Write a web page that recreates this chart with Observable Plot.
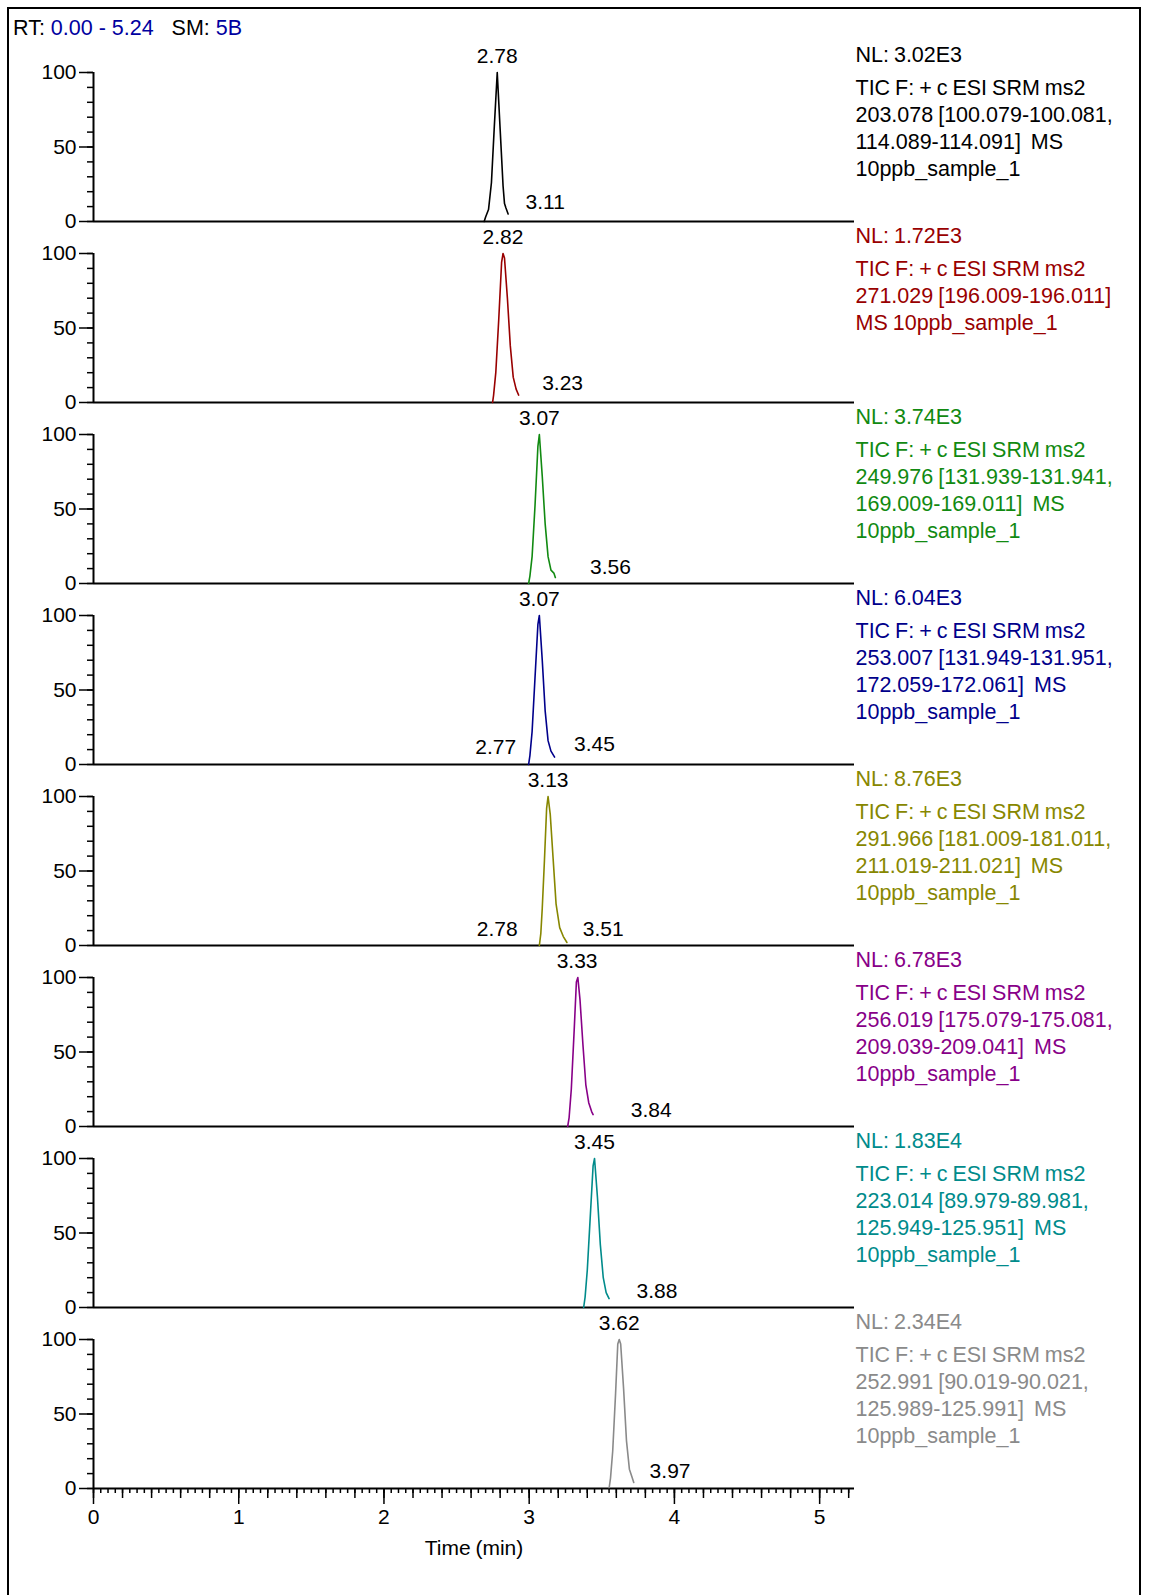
<!DOCTYPE html>
<html>
<head>
<meta charset="utf-8">
<script src="https://cdn.jsdelivr.net/npm/d3@7"></script>
<script src="https://cdn.jsdelivr.net/npm/@observablehq/plot@0.6"></script>
<style>
  body { margin: 0; background: #fff; }
  #wrap { position: relative; width: 1150px; height: 1595px; overflow: hidden; font-family: "Liberation Sans", Arial, sans-serif; }
  #frame { position: absolute; left: 7px; top: 7px; width: 1134px; height: 1620px; border: 2px solid #000; border-bottom: none; box-sizing: border-box; pointer-events: none; z-index: 5; }
  #title { position: absolute; left: 13px; top: 15px; font-size: 21.5px; line-height: 26px; white-space: pre; color: #000; }
  #title .v { color: #0000a0; }
  .panel { position: absolute; left: 0; }
</style>
</head>
<body>
<div id="wrap">
  <div id="title"></div>
  <div id="frame"></div>
</div>
<script>
// ---- Data ----
const rtRange = "0.00 - 5.24";
const smooth = "5B";
const xDomain = [0, 5.24];
const xMajorTicks = [0, 1, 2, 3, 4, 5];
const yTicks = [0, 50, 100];

const colors = ["#000000", "#990000", "#118a11", "#00008b", "#878700", "#880088", "#008b8b", "#8a8a8a"];
const nlLabels = ["NL: 3.02E3", "NL: 1.72E3", "NL: 3.74E3", "NL: 6.04E3", "NL: 8.76E3", "NL: 6.78E3", "NL: 1.83E4", "NL: 2.34E4"];
const desc1 = ["TIC F: + c ESI SRM ms2", "203.078 [100.079-100.081,", "114.089-114.091]  MS", "10ppb_sample_1"];
const desc2 = ["TIC F: + c ESI SRM ms2", "271.029 [196.009-196.011]", "MS 10ppb_sample_1"];
const desc3 = ["TIC F: + c ESI SRM ms2", "249.976 [131.939-131.941,", "169.009-169.011]  MS", "10ppb_sample_1"];
const desc4 = ["TIC F: + c ESI SRM ms2", "253.007 [131.949-131.951,", "172.059-172.061]  MS", "10ppb_sample_1"];
const desc5 = ["TIC F: + c ESI SRM ms2", "291.966 [181.009-181.011,", "211.019-211.021]  MS", "10ppb_sample_1"];
const desc6 = ["TIC F: + c ESI SRM ms2", "256.019 [175.079-175.081,", "209.039-209.041]  MS", "10ppb_sample_1"];
const desc7 = ["TIC F: + c ESI SRM ms2", "223.014 [89.979-89.981,", "125.949-125.951]  MS", "10ppb_sample_1"];
const desc8 = ["TIC F: + c ESI SRM ms2", "252.991 [90.019-90.021,", "125.989-125.991]  MS", "10ppb_sample_1"];

// traces: retention time (min) and relative abundance (%)
const t1 = [2.69, 2.70, 2.72, 2.74, 2.76, 2.78, 2.80, 2.82, 2.83, 2.84, 2.855];
const a1 = [0, 3, 8, 26, 64, 100, 62, 24, 12, 9, 5];
const t2 = [2.748, 2.755, 2.77, 2.79, 2.81, 2.82, 2.83, 2.85, 2.87, 2.89, 2.91, 2.927];
const a2 = [0, 5, 20, 55, 94, 100, 97, 70, 38, 17, 9, 5];
const t3 = [2.996, 3.005, 3.02, 3.04, 3.06, 3.07, 3.09, 3.11, 3.13, 3.15, 3.17, 3.18];
const a3 = [0, 5, 18, 52, 92, 100, 72, 40, 18, 9, 7, 4];
const t4 = [2.996, 3.005, 3.02, 3.04, 3.06, 3.07, 3.09, 3.11, 3.13, 3.15, 3.175];
const a4 = [0, 6, 22, 58, 94, 100, 70, 36, 16, 9, 5];
const t5 = [3.07, 3.08, 3.09, 3.105, 3.12, 3.13, 3.145, 3.165, 3.185, 3.21, 3.235, 3.26];
const a5 = [0, 8, 25, 57, 92, 100, 88, 58, 28, 12, 6, 2];
const t6 = [3.265, 3.275, 3.29, 3.31, 3.325, 3.335, 3.35, 3.37, 3.39, 3.41, 3.43, 3.44];
const a6 = [0, 6, 25, 65, 97, 100, 85, 55, 28, 16, 10, 8];
const t7 = [3.375, 3.385, 3.40, 3.42, 3.44, 3.45, 3.47, 3.49, 3.51, 3.53, 3.55];
const a7 = [0, 7, 25, 60, 95, 100, 74, 42, 20, 10, 6];
const t8 = [3.55, 3.56, 3.575, 3.595, 3.61, 3.62, 3.63, 3.65, 3.67, 3.69, 3.71, 3.72];
const a8 = [0, 7, 25, 64, 97, 100, 97, 67, 32, 13, 7, 4];

// peak labels: time and the abundance they sit on
const labelTimes = [[2.78, 3.11], [2.82, 3.23], [3.07, 3.56], [3.07, 2.77, 3.45], [3.13, 2.78, 3.51], [3.33, 3.84], [3.45, 3.88], [3.62, 3.97]];
const labelAbund = [[100, 2], [100, 2], [100, 0], [100, 1, 3], [100, 0, 0], [100, 0], [100, 0], [100, 1]];

// ---- Build ----
const traceT = [t1, t2, t3, t4, t5, t6, t7, t8];
const traceA = [a1, a2, a3, a4, a5, a6, a7, a8];
const descs = [desc1, desc2, desc3, desc4, desc5, desc6, desc7, desc8];

const title = document.getElementById("title");
title.innerHTML = `RT: <span class="v">${rtRange}</span>   SM: <span class="v">${smooth}</span>`;

const wrap = document.getElementById("wrap");
const FONT = "Liberation Sans, Arial, sans-serif";
const MT = 30, PH = 149, PITCH = 181, TOP0 = 72;

for (let p = 0; p < 8; p++) {
  const last = p === 7;
  const data = traceT[p].map((t, k) => ({t, v: traceA[p][k]}));
  const labs = labelTimes[p].map((t, k) => ({t, v: labelAbund[p][k], s: t.toFixed(2)}));
  const mb = last ? 90 : 2;
  const marks = [
    Plot.ruleY([0], {stroke: "#000", strokeWidth: 2}),
    Plot.ruleX([0], {y1: 0, y2: 100, stroke: "#000", strokeWidth: 2}),
    Plot.axisY({ticks: d3.range(0, 101, 10), tickSize: 6, fill: "none", label: null, strokeWidth: 1.5}),
    Plot.axisY({ticks: yTicks, tickSize: 14, tickPadding: 3, fontSize: 21, label: null, strokeWidth: 1.5}),
    Plot.line(data, {x: "t", y: "v", stroke: colors[p], strokeWidth: 1.6}),
    Plot.text(labs, {x: "t", y: "v", text: "s", dy: -16, fontSize: 21, fill: "#000"}),
    Plot.text([nlLabels[p]], {text: d => d, frameAnchor: "top-right", textAnchor: "start", lineAnchor: "middle", dx: 1, dy: -17, fill: colors[p], fontSize: 21.5}),
    Plot.text([descs[p].join("\n")], {text: d => d, frameAnchor: "top-right", textAnchor: "start", lineAnchor: "top", lineHeight: 27 / 21.5, dx: 1, dy: 3, fill: colors[p], fontSize: 21.5})
  ];
  if (last) {
    marks.push(
      Plot.axisX({ticks: d3.range(0, 105).map(i => i / 20), tickSize: 5, fill: "none", label: null, strokeWidth: 1.5}),
      Plot.axisX({ticks: d3.range(0, 27).map(i => i / 5), tickSize: 10, fill: "none", label: null, strokeWidth: 1.5}),
      Plot.axisX({ticks: xMajorTicks, tickSize: 16, tickPadding: 5, fontSize: 21, label: null, strokeWidth: 1.5, tickFormat: d => String(d)}),
      Plot.text(["Time (min)"], {text: d => d, frameAnchor: "bottom", lineAnchor: "middle", dy: 60, fontSize: 21, fill: "#000"})
    );
  }
  const chart = Plot.plot({
    width: 1150,
    height: MT + PH + mb,
    marginTop: MT,
    marginBottom: mb,
    marginLeft: 93,
    marginRight: 296,
    x: {domain: xDomain, axis: last ? undefined : null},
    y: {domain: [0, 100]},
    style: {background: "transparent", fontFamily: FONT, fontSize: "21px", overflow: "visible", whiteSpace: "pre", wordSpacing: "-1px", color: "#000"},
    marks
  });
  chart.classList.add("panel");
  chart.style.top = (TOP0 + PITCH * p - MT) + "px";
  wrap.appendChild(chart);
}
</script>
</body>
</html>
